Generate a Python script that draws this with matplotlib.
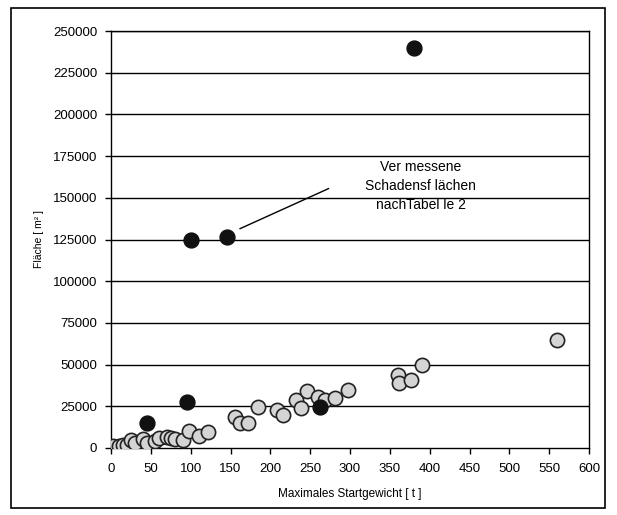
import matplotlib.pyplot as plt
from matplotlib.patches import Rectangle

# Messwerte (grau): maximales Startgewicht [t] und Fläche [m²]
gray_x = [2, 10, 15, 20, 25, 30, 40, 45, 55, 60, 70, 75, 80, 90, 98, 110, 122,
          156, 162, 172, 184, 208, 216, 232, 238, 246, 260, 268, 281, 297,
          360, 362, 376, 391, 560]
gray_y = [1000, 1000, 2000, 1500, 5000, 3000, 5500, 3000, 4000, 6000, 6500, 6000,
          5500, 5000, 10000, 7000, 9500, 18500, 15000, 15000, 24500, 22500, 20000,
          28500, 24000, 34000, 30500, 29000, 30000, 34500, 43500, 39000, 41000,
          50000, 65000]

# Vermessene Schadensflächen nach Tabelle 2 (schwarz)
black_x = [45, 95, 100, 145, 262, 380]
black_y = [15000, 27500, 125000, 126500, 24500, 240000]

x_ticks = list(range(0, 601, 50))
y_ticks = list(range(0, 250001, 25000))

plt.rcParams['font.family'] = ['Liberation Sans', 'DejaVu Sans']

fig = plt.figure(figsize=(6.17, 5.15), dpi=100)
fig.patches.append(Rectangle((11 / 617, 1 - 508 / 515), 594 / 617, 500 / 515,
                             transform=fig.transFigure, fill=False,
                             edgecolor='black', linewidth=1.2))

ax = fig.add_axes([111 / 617, 1 - 448 / 515, 478 / 617, 417 / 515])

for y in y_ticks[1:]:
    ax.axhline(y, color='black', linewidth=1.0, zorder=1)

ax.scatter(gray_x, gray_y, s=105, facecolor='#d4d4d4', edgecolor='#222222',
           linewidth=1.2, zorder=3)
ax.scatter(black_x, black_y, s=115, facecolor='#111111', edgecolor='#111111',
           linewidth=1.0, zorder=4)

ax.plot([162, 273], [131500, 155500], color='black', linewidth=1.0, zorder=2)
ax.text(389, 157000, 'Ver messene\nSchadensf lächen\nnachTabel le 2',
        ha='center', va='center', fontsize=10, linespacing=1.45)

ax.set_xlim(0, 600)
ax.set_ylim(0, 250000)
ax.set_xticks(x_ticks)
ax.set_yticks(y_ticks)
ax.tick_params(direction='out', length=4, width=1, labelsize=9.5)
ax.tick_params(axis='x', pad=7)
ax.tick_params(axis='y', pad=6)
for spine in ax.spines.values():
    spine.set_linewidth(1.0)

ax.set_xlabel('Maximales Startgewicht [ t ]', fontsize=8.5, labelpad=9)
ax.set_ylabel('Fläche [ m² ]', fontsize=7.5, labelpad=6)

fig.savefig('out.png', dpi=100)
